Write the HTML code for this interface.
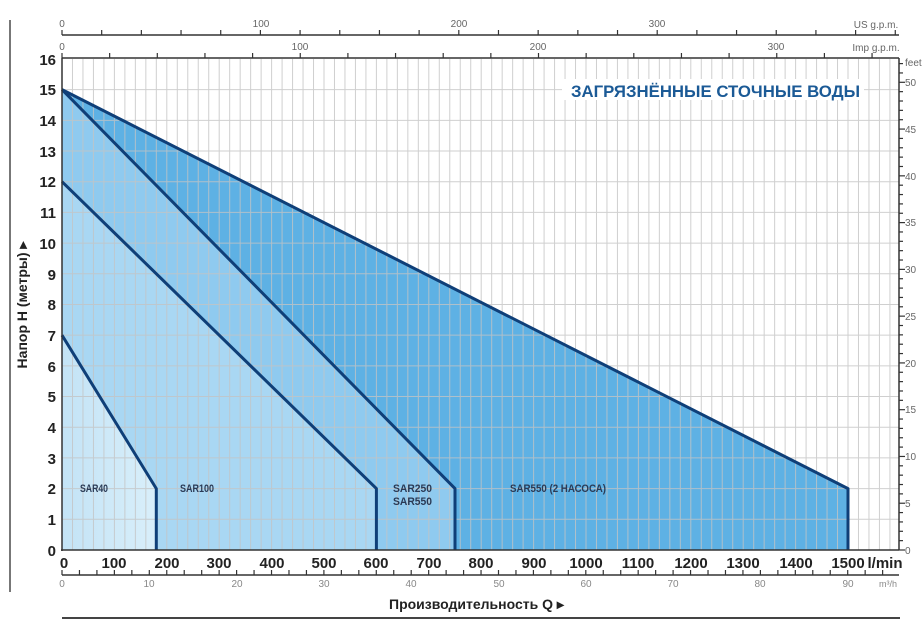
<!DOCTYPE html>
<html><head><meta charset="utf-8"><style>
html,body{margin:0;padding:0;background:#fff;}
svg{display:block;font-family:"Liberation Sans",sans-serif;}
</style></head><body>
<svg id="s" width="922" height="623" viewBox="0 0 922 623" xmlns="http://www.w3.org/2000/svg">
<defs>
<linearGradient id="g40" x1="0" x2="1" y1="0" y2="0"><stop offset="0" stop-color="#c3e3f6"/><stop offset="1" stop-color="#d9effa"/></linearGradient>
</defs>
<rect x="62" y="59" width="837" height="491" fill="#fff"/>
<polygon points="62,89.6 848,488.6 848,550 62,550" fill="#5eb1e4"/>
<polygon points="62,89.6 455,488.6 455,550 62,550" fill="#8fcaef"/>
<polygon points="62,181.7 376.4,488.6 376.4,550 62,550" fill="#a9d7f3"/>
<polygon points="62,335.2 156.3,488.6 156.3,550 62,550" fill="url(#g40)"/>
<g id="grid" stroke="#c4c4c4" stroke-width="1" opacity="0.8"></g>
<rect x="562" y="79" width="302" height="21" fill="#fff"/>
<text x="571" y="97" font-size="17" font-weight="bold" fill="#1b5a96" textLength="289" lengthAdjust="spacingAndGlyphs">ЗАГРЯЗНЁННЫЕ СТОЧНЫЕ ВОДЫ</text>
<g fill="none" stroke="#0f3f78" stroke-width="3" stroke-linejoin="round">
<polyline points="62,89.6 848,488.6 848,550"/>
<polyline points="62,89.6 455,488.6 455,550"/>
<polyline points="62,181.7 376.4,488.6 376.4,550"/>
<polyline points="62,335.2 156.3,488.6 156.3,550"/>
</g>
<g stroke="#333" stroke-width="1.5" fill="none">
<line x1="62" y1="58" x2="62" y2="551"/>
<line x1="61" y1="550" x2="899" y2="550"/>
<line x1="62" y1="58" x2="899" y2="58"/>
<line x1="899" y1="58" x2="899" y2="550"/>
<line x1="62" y1="35" x2="899" y2="35"/>
<line x1="62" y1="575" x2="899" y2="575"/>
</g>
<line x1="10" y1="20" x2="10" y2="592" stroke="#777" stroke-width="2"/>
<line x1="62" y1="618" x2="900" y2="618" stroke="#444" stroke-width="2"/>
<g id="ticks" stroke="#333" stroke-width="1.2"></g>
<g font-size="15" font-weight="bold" fill="#222" text-anchor="end">
<text x="56" y="65">16</text><text x="56" y="95">15</text><text x="56" y="126">14</text><text x="56" y="157">13</text><text x="56" y="187">12</text><text x="56" y="218">11</text><text x="56" y="249">10</text><text x="56" y="280">9</text><text x="56" y="310">8</text><text x="56" y="341">7</text><text x="56" y="372">6</text><text x="56" y="402">5</text><text x="56" y="433">4</text><text x="56" y="464">3</text><text x="56" y="494">2</text><text x="56" y="525">1</text><text x="56" y="556">0</text>
</g>
<g font-size="15" font-weight="bold" fill="#222" text-anchor="middle">
<text x="64" y="568">0</text><text x="114" y="568">100</text><text x="167" y="568">200</text><text x="219" y="568">300</text><text x="272" y="568">400</text><text x="324" y="568">500</text><text x="376" y="568">600</text><text x="429" y="568">700</text><text x="481" y="568">800</text><text x="534" y="568">900</text><text x="586" y="568">1000</text><text x="638" y="568">1100</text><text x="691" y="568">1200</text><text x="743" y="568">1300</text><text x="796" y="568">1400</text><text x="848" y="568">1500</text><text x="885" y="568">l/min</text>
</g>
<g font-size="10" fill="#888" text-anchor="middle">
<text x="62" y="587">0</text><text x="149" y="587">10</text><text x="237" y="587">20</text><text x="324" y="587">30</text><text x="411" y="587">40</text><text x="499" y="587">50</text><text x="586" y="587">60</text><text x="673" y="587">70</text><text x="760" y="587">80</text><text x="848" y="587">90</text><text x="888" y="587" font-size="9">m³/h</text>
</g>
<g font-size="10" fill="#666" text-anchor="middle">
<text x="62" y="27">0</text><text x="261" y="27">100</text><text x="459" y="27">200</text><text x="657" y="27">300</text><text x="876" y="28" font-size="10">US g.p.m.</text>
<text x="62" y="50">0</text><text x="300" y="50">100</text><text x="538" y="50">200</text><text x="776" y="50">300</text><text x="876" y="51" font-size="10">Imp g.p.m.</text>
</g>
<g font-size="10" fill="#666">
<text x="905" y="66">feet</text><text x="905" y="86">50</text><text x="905" y="133">45</text><text x="905" y="180">40</text><text x="905" y="226">35</text><text x="905" y="273">30</text><text x="905" y="320">25</text><text x="905" y="367">20</text><text x="905" y="413">15</text><text x="905" y="460">10</text><text x="905" y="507">5</text><text x="905" y="554">0</text>
</g>
<g font-size="11" font-weight="bold" fill="#2a3a55">
<text x="80" y="492" textLength="28" lengthAdjust="spacingAndGlyphs">SAR40</text>
<text x="180" y="492" textLength="34" lengthAdjust="spacingAndGlyphs">SAR100</text>
<text x="393" y="492" textLength="39" lengthAdjust="spacingAndGlyphs">SAR250</text>
<text x="393" y="505" textLength="39" lengthAdjust="spacingAndGlyphs">SAR550</text>
<text x="510" y="492" textLength="96" lengthAdjust="spacingAndGlyphs">SAR550 (2 НАСОСА)</text>
</g>
<text x="389" y="609" font-size="14" font-weight="bold" fill="#222">Производительность Q ▸</text>
<text transform="translate(27,305) rotate(-90)" font-size="14" font-weight="bold" fill="#222" text-anchor="middle">Напор H (метры) ▸</text>
<script>
var ns="http://www.w3.org/2000/svg",g=document.getElementById("grid"),t=document.getElementById("ticks");
function L(p,a,b,c,d){var l=document.createElementNS(ns,"line");l.setAttribute("x1",a);l.setAttribute("y1",b);l.setAttribute("x2",c);l.setAttribute("y2",d);p.appendChild(l);}
for(var x=62+10.48;x<898;x+=10.48)L(g,x,59,x,550);
for(var i=1;i<16;i++){var y=550-i*30.69;L(g,62,y,899,y);}
for(var i=0;i*39.68<837;i++){var x=62+i*39.68;L(t,x,30,x,35);}
for(var i=0;i*47.65<837;i++){var x=62+i*47.65;L(t,x,53,x,58);}
for(var i=0;i*17.46<837;i++){var x=62+i*17.46;L(t,x,570,x,575);}
for(var i=0;i<=52;i++){var y=550-i*9.354;L(t,899,y,i%5==0?905:903,y);}
</script>
</svg>
</body></html>
